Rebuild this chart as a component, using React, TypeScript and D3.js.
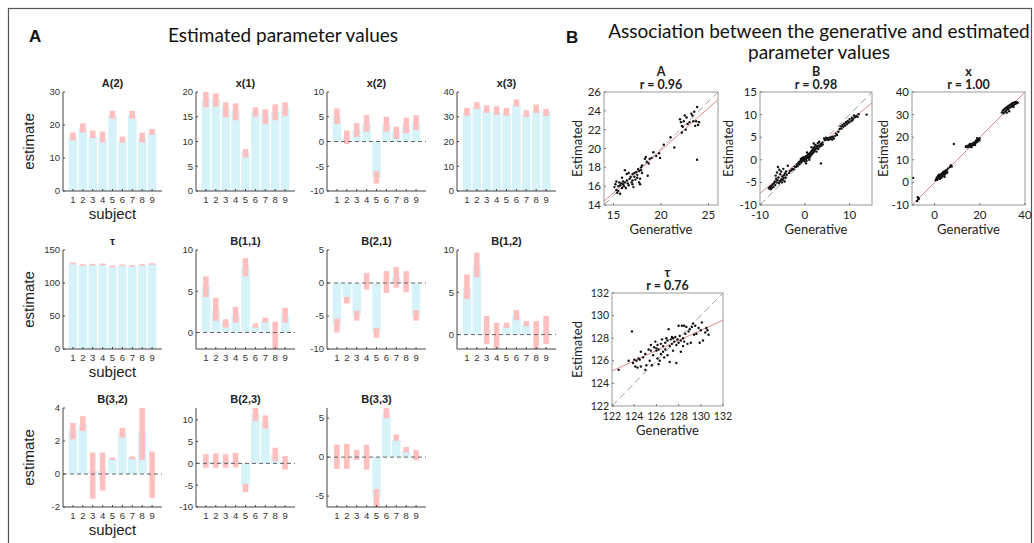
import React from 'react';
import * as d3 from 'd3';

// ---- panel A data: generative value (blue bar) and estimate range (pink box) per subject ----
const subjects = [1, 2, 3, 4, 5, 6, 7, 8, 9];

const a2Gen = [16.5, 19.3, 16.3, 16.0, 23.0, 15.0, 23.0, 16.0, 17.5];
const a2Est = [[15.3, 17.7], [17.7, 20.5], [16.0, 18.3], [14.7, 18.0], [21.9, 24.3], [14.7, 16.5], [21.9, 24.3], [14.7, 17.7], [17.0, 18.8]];
const x1Gen = [18.7, 18.5, 16.7, 16.3, 7.7, 16.0, 15.5, 16.0, 16.7];
const x1Est = [[16.9, 20.0], [17.0, 19.7], [14.9, 17.9], [14.3, 17.7], [6.8, 8.5], [15.0, 16.9], [13.5, 16.5], [14.3, 17.5], [15.2, 17.9]];
const x2Gen = [5.1, 1.0, 2.3, 3.8, -7.3, 3.5, 2.0, 3.2, 3.8];
const x2Est = [[3.5, 6.7], [-0.5, 2.2], [0.9, 3.7], [2.0, 5.3], [-8.5, -6.0], [2.0, 5.0], [0.5, 3.0], [1.7, 4.8], [2.3, 5.3]];
const x3Gen = [31.5, 33.9, 32.6, 31.9, 31.5, 35.0, 31.0, 32.6, 31.9];
const x3Est = [[30.5, 33.6], [33.1, 35.9], [31.6, 34.6], [30.8, 34.2], [30.4, 33.5], [34.2, 37.0], [29.9, 32.6], [31.5, 34.9], [30.3, 33.2]];
const tauGen = [129.5, 127.0, 127.5, 128.0, 125.0, 126.5, 125.5, 127.5, 128.5];
const tauEst = [[128.0, 131.0], [126.0, 128.5], [126.5, 129.0], [126.5, 129.5], [123.5, 126.5], [125.5, 128.0], [124.5, 127.0], [126.5, 129.0], [127.5, 130.0]];
const b11Gen = [5.6, 2.8, 1.2, 2.1, 7.9, 0.7, 1.4, -0.2, 2.1];
const b11Est = [[4.3, 6.8], [1.4, 4.2], [0.6, 1.6], [1.2, 3.1], [6.8, 9.0], [0.6, 1.1], [1.2, 1.8], [-2.0, 1.3], [1.2, 3.0]];
const b21Gen = [-6.4, -2.4, -4.9, 0.1, -7.6, 0.2, 0.8, 0.3, -4.9];
const b21Est = [[-7.5, -5.4], [-3.1, -2.1], [-5.7, -4.2], [-1.0, 1.5], [-8.3, -6.8], [-1.5, 1.8], [-0.7, 2.4], [-1.4, 1.8], [-5.7, -4.1]];
const b12Gen = [5.6, 8.2, 0.5, 0.1, 1.0, 2.2, 1.2, 0.1, 0.5];
const b12Est = [[4.2, 7.1], [6.8, 9.7], [-1.1, 2.2], [-1.8, 1.4], [0.8, 1.4], [1.7, 2.9], [1.0, 1.6], [-1.8, 1.6], [-1.1, 2.2]];
const b32Gen = [2.7, 3.0, 0.2, 0.2, 0.9, 2.5, 1.0, 2.5, 0.05];
const b32Est = [[2.1, 3.1], [2.6, 3.5], [-1.5, 1.3], [-1.0, 1.3], [0.85, 1.0], [2.2, 2.8], [0.9, 1.06], [0.85, 4.1], [-1.45, 1.35]];
const b23Gen = [0.5, 0.5, 0.5, 0.5, -5.3, 11.4, 9.5, 2.1, 0.3];
const b23Est = [[-1.0, 2.1], [-1.0, 2.3], [-1.0, 2.1], [-0.9, 2.4], [-6.6, -4.7], [9.7, 12.7], [8.0, 11.0], [0.5, 3.6], [-1.4, 1.7]];
const b33Gen = [0.0, 0.0, 0.1, 0.0, -5.2, 5.6, 2.2, 0.8, 0.1];
const b33Est = [[-1.5, 1.6], [-1.5, 1.7], [-0.35, 0.9], [-1.6, 1.6], [-6.4, -4.1], [5.0, 6.3], [2.1, 2.9], [0.6, 1.3], [-0.4, 0.9]];

// ---- panel B data: [generative, estimated] ----
const ptsA = [[15.1, 15.9], [15.2, 16.2], [15.3, 15.6], [15.4, 15.3], [15.5, 16.0], [15.5, 15.5], [15.6, 16.4], [15.7, 16.1], [15.8, 16.3], [15.9, 15.8], [16.0, 16.5], [16.0, 16.2], [16.1, 16.0], [16.2, 17.7], [16.2, 16.4], [16.3, 15.8], [16.4, 16.6], [16.5, 16.3], [16.6, 16.1], [16.7, 16.8], [16.8, 17.0], [16.9, 16.4], [17.0, 17.3], [17.0, 16.6], [17.1, 15.9], [17.2, 17.0], [17.3, 16.7], [17.4, 17.5], [17.5, 16.9], [17.5, 17.2], [17.6, 17.8], [17.7, 16.4], [17.7, 17.6], [17.8, 16.2], [17.9, 17.7], [17.9, 18.0], [18.0, 17.4], [18.0, 18.2], [15.3, 16.5], [16.6, 17.4], [17.2, 17.4], [15.9, 16.9], [16.4, 17.3], [17.8, 16.8], [15.7, 15.2], [17.0, 16.2], [18.4, 19.1], [18.5, 18.6], [18.6, 17.1], [18.7, 18.4], [19.0, 19.0], [19.2, 19.6], [19.5, 19.2], [19.8, 19.5], [19.9, 19.0], [20.3, 20.4], [21.0, 21.2], [21.4, 20.1], [18.3, 18.9], [18.8, 18.9], [22.0, 23.1], [22.1, 22.8], [22.2, 21.7], [22.3, 22.3], [22.4, 22.9], [22.5, 23.5], [22.6, 22.0], [22.7, 23.3], [22.8, 22.6], [23.0, 22.8], [23.2, 23.7], [23.3, 23.5], [23.5, 23.9], [23.6, 22.4], [23.7, 22.9], [23.8, 24.4], [23.8, 18.8], [24.0, 22.8], [23.9, 22.5], [23.4, 22.9], [22.2, 22.4]];
const ptsB = [[-8.0, -6.3], [-7.8, -6.0], [-7.6, -6.5], [-7.5, -5.8], [-7.3, -6.2], [-7.2, -5.5], [-7.0, -6.0], [-6.9, -5.2], [-6.7, -4.8], [-6.6, -5.6], [-6.5, -3.5], [-6.4, -4.2], [-6.3, -5.0], [-6.2, -2.8], [-6.1, -4.5], [-6.0, -1.6], [-5.9, -3.9], [-5.8, -5.2], [-5.7, -2.2], [-5.6, -4.8], [-5.5, -3.2], [-5.4, -4.6], [-5.3, -2.6], [-5.2, -4.3], [-5.1, -5.0], [-5.0, -3.7], [-4.9, -4.4], [-4.8, -2.0], [-4.7, -4.0], [-4.6, -3.4], [-4.5, -4.8], [-4.4, -3.0], [-4.3, -3.9], [-4.2, -2.6], [-4.0, -3.3], [-3.8, -1.3], [-3.5, -2.9], [-3.3, -2.5], [-3.0, -2.3], [-2.8, -2.0], [-2.5, -2.1], [-2.3, -1.5], [-2.0, -1.6], [-1.8, -1.1], [-1.6, -1.4], [-1.5, -0.8], [-1.3, -0.5], [-1.2, -1.0], [-1.0, -0.3], [-0.9, 0.2], [-0.8, -0.6], [-0.7, 0.0], [-0.6, 0.4], [-0.5, -0.2], [-0.4, 0.3], [-0.3, 0.6], [-0.2, -0.1], [-0.1, 0.2], [0.0, 0.5], [0.0, -0.4], [0.1, 0.1], [0.2, 0.8], [0.3, 0.3], [0.4, -0.2], [0.5, 0.6], [0.6, 1.0], [0.7, 0.4], [0.8, 1.3], [0.9, 0.7], [1.0, 1.1], [1.1, 0.5], [1.2, 1.5], [1.3, 0.9], [1.4, 1.8], [1.5, 1.2], [1.6, 2.0], [1.7, 1.4], [1.8, 2.3], [1.9, 1.6], [2.0, 2.6], [2.1, 1.9], [2.2, 2.9], [2.3, 2.2], [2.4, 3.3], [2.5, 2.5], [2.6, 1.8], [2.7, 3.0], [2.8, 2.7], [2.9, 3.7], [3.0, 2.4], [3.1, 3.2], [3.2, 4.0], [3.3, 2.9], [3.5, 3.5], [3.6, -0.8], [3.7, 3.1], [3.9, 3.8], [4.0, 3.4], [1.5, 2.8], [0.5, 1.6], [2.0, 3.6], [0.3, -0.8], [1.0, 0.0], [4.3, 4.7], [4.5, 4.4], [4.7, 4.9], [4.9, 4.5], [5.1, 4.8], [5.3, 4.4], [5.5, 4.9], [5.7, 4.6], [5.9, 5.0], [6.1, 4.5], [6.3, 5.1], [6.5, 4.7], [6.8, 5.3], [7.0, 5.8], [7.2, 5.5], [7.5, 6.2], [7.8, 6.8], [8.0, 7.4], [8.2, 6.9], [8.4, 7.7], [8.6, 7.3], [8.8, 8.0], [9.0, 7.6], [9.2, 8.3], [9.4, 7.9], [9.6, 8.6], [9.8, 8.2], [10.0, 9.0], [10.2, 8.5], [10.5, 9.3], [10.8, 9.0], [11.0, 9.8], [11.2, 9.4], [11.5, 9.7], [12.0, 10.1], [13.8, 10.0], [11.8, 9.5], [10.6, 8.7]];
const ptsX = [[-9.5, 2.0], [-7.5, -6.5], [-7.2, -7.5], [-7.8, -8.2], [-7.0, -7.0], [0.5, 1.0], [0.8, 1.5], [1.0, 2.2], [1.2, 1.2], [1.5, 2.8], [1.7, 1.8], [2.0, 2.5], [2.2, 3.2], [2.4, 1.6], [2.6, 2.9], [2.8, 3.6], [3.0, 2.2], [3.1, 3.0], [3.3, 4.0], [3.5, 2.7], [3.6, 3.5], [3.8, 4.4], [4.0, 3.1], [4.1, 3.9], [4.3, 4.8], [4.5, 3.6], [4.6, 4.3], [4.8, 5.2], [5.0, 4.0], [5.2, 4.7], [5.4, 5.5], [5.6, 4.4], [6.0, 6.2], [6.8, 6.8], [7.2, 7.6], [7.6, 7.0], [8.5, 17.0], [2.7, 2.0], [3.9, 4.6], [1.9, 3.4], [4.4, 2.5], [13.8, 15.8], [14.2, 16.1], [14.6, 15.5], [15.0, 16.3], [15.4, 15.9], [15.8, 16.6], [16.1, 16.0], [16.5, 17.0], [16.8, 16.4], [17.1, 17.4], [17.4, 16.8], [17.7, 17.8], [18.0, 17.2], [18.3, 18.4], [18.6, 17.8], [18.9, 18.9], [19.2, 18.2], [19.5, 19.3], [19.8, 18.7], [20.0, 19.5], [16.3, 15.6], [17.9, 16.5], [18.8, 19.6], [15.6, 17.0], [29.8, 31.0], [30.2, 31.8], [30.5, 30.6], [30.8, 32.4], [31.1, 31.3], [31.4, 32.9], [31.7, 31.8], [32.0, 33.3], [32.3, 32.4], [32.6, 33.8], [32.9, 32.8], [33.2, 34.2], [33.5, 33.3], [33.8, 34.6], [34.1, 33.7], [34.4, 35.0], [34.7, 34.1], [35.0, 35.3], [35.3, 34.5], [35.6, 35.6], [35.9, 34.8], [36.2, 35.5], [36.5, 35.1], [36.8, 35.3], [33.0, 31.5], [31.9, 30.8], [34.9, 33.4]];
const ptsTau = [[122.6, 125.2], [123.5, 126.0], [123.8, 128.6], [123.9, 125.8], [124.1, 125.5], [124.2, 126.0], [124.3, 125.4], [124.4, 126.2], [124.5, 126.1], [124.6, 125.5], [124.6, 126.8], [124.8, 126.3], [125.0, 125.2], [125.0, 126.6], [125.1, 125.6], [125.3, 127.0], [125.4, 126.0], [125.5, 126.9], [125.5, 127.4], [125.7, 126.5], [125.8, 127.2], [125.9, 127.7], [126.0, 126.9], [126.1, 126.2], [126.1, 127.4], [126.2, 125.7], [126.2, 127.0], [126.3, 126.0], [126.4, 127.5], [126.4, 126.6], [126.5, 127.9], [126.6, 127.3], [126.6, 126.8], [126.7, 126.3], [126.8, 127.6], [126.8, 127.0], [126.9, 128.0], [127.0, 126.5], [127.0, 127.8], [127.1, 128.8], [127.2, 127.3], [127.2, 125.9], [127.3, 127.9], [127.4, 127.5], [127.5, 128.0], [127.5, 126.9], [127.6, 127.7], [127.7, 128.1], [127.8, 127.4], [127.8, 125.8], [127.9, 127.9], [128.0, 129.1], [128.0, 127.6], [128.1, 128.2], [128.2, 127.8], [128.2, 126.8], [128.3, 129.1], [128.4, 128.0], [128.4, 127.3], [128.5, 127.7], [128.6, 128.4], [128.7, 129.0], [128.8, 127.5], [128.9, 128.6], [129.0, 128.8], [129.1, 127.6], [129.2, 129.0], [129.3, 129.3], [129.4, 128.3], [129.5, 129.1], [129.6, 128.4], [129.8, 128.9], [129.9, 127.6], [130.0, 128.7], [130.1, 129.4], [130.2, 127.8], [130.4, 128.5], [130.5, 128.9], [130.6, 128.7], [130.7, 128.3], [128.5, 129.1], [126.0, 127.1], [127.4, 128.1], [125.6, 125.6], [124.0, 126.1]];

// least squares fit: [slope, intercept]
const fitA = [0.9, 1.8];
const fitB = [0.8, 0.6];
const fitX = [1.0, 0.0];
const fitTau = [0.45, 70.2];

const NARROW = "'Liberation Sans Narrow', 'Arial Narrow', 'Liberation Sans', Arial, sans-serif";
const CAL = "Lato, 'Open Sans', 'DejaVu Sans', sans-serif";
const BLUE = '#d6f3fa';
const PINK = '#ffbfbf';

const barPanels = [
  { title: 'A(2)', gen: a2Gen, est: a2Est, domain: [0, 30], ticks: [0, 10, 20, 30], col: 0, row: 0 },
  { title: 'x(1)', gen: x1Gen, est: x1Est, domain: [0, 20], ticks: [0, 5, 10, 15, 20], col: 1, row: 0 },
  { title: 'x(2)', gen: x2Gen, est: x2Est, domain: [-10, 10], ticks: [-10, -5, 0, 5, 10], col: 2, row: 0 },
  { title: 'x(3)', gen: x3Gen, est: x3Est, domain: [0, 40], ticks: [0, 10, 20, 30, 40], col: 3, row: 0 },
  { title: 'τ', gen: tauGen, est: tauEst, domain: [0, 150], ticks: [0, 50, 100, 150], col: 0, row: 1 },
  { title: 'B(1,1)', gen: b11Gen, est: b11Est, domain: [-2, 10], ticks: [0, 5, 10], col: 1, row: 1 },
  { title: 'B(2,1)', gen: b21Gen, est: b21Est, domain: [-10, 5], ticks: [-10, -5, 0, 5], col: 2, row: 1 },
  { title: 'B(1,2)', gen: b12Gen, est: b12Est, domain: [-1.7, 10], ticks: [0, 5, 10], col: 3, row: 1 },
  { title: 'B(3,2)', gen: b32Gen, est: b32Est, domain: [-2, 4], ticks: [-2, 0, 2, 4], col: 0, row: 2 },
  { title: 'B(2,3)', gen: b23Gen, est: b23Est, domain: [-10, 12.7], ticks: [-10, -5, 0, 5, 10], col: 1, row: 2 },
  { title: 'B(3,3)', gen: b33Gen, est: b33Est, domain: [-6.4, 6.3], ticks: [-5, 0, 5], col: 2, row: 2 },
];

const colX = [63, 196, 327, 457];
const rowY = [92, 250, 408];

const scatterPanels = [
  { name: 'A', r: 'r = 0.96', pts: ptsA, fit: fitA, dom: [14, 26], ydom: [14, 26], xt: [15, 20, 25], yt: [14, 16, 18, 20, 22, 24, 26], box: [604, 92, 114, 113], labX: 582, fs: 11.5 },
  { name: 'B', r: 'r = 0.98', pts: ptsB, fit: fitB, dom: [-10, 15], ydom: [-10, 15], xt: [-10, 0, 10], yt: [-10, -5, 0, 5, 10, 15], box: [760, 92, 112, 113], labX: 733, fs: 11.5 },
  { name: 'x', r: 'r = 1.00', pts: ptsX, fit: fitX, dom: [-10, 40], ydom: [-10, 40], xt: [0, 20, 40], yt: [-10, 0, 10, 20, 30, 40], box: [912, 92, 113, 113], labX: 888, fs: 11.5 },
  { name: 'τ', r: 'r = 0.76', pts: ptsTau, fit: fitTau, dom: [122, 132], ydom: [122, 132], xt: [122, 124, 126, 128, 130, 132], yt: [122, 124, 126, 128, 130, 132], box: [612, 293, 111, 113], labX: 582, fs: 10.5 },
];

function BarPanel({ p }: any) {
  const x0 = colX[p.col];
  const y0 = rowY[p.row];
  const w = 99, h = 99;
  const x = d3.scaleLinear().domain([0, 10]).range([x0, x0 + w]);
  const y = d3.scaleLinear().domain(p.domain).range([y0 + h, y0]);
  const cl = (v: number) => Math.max(p.domain[0], Math.min(p.domain[1], v));
  const bw = x(0.86) - x(0);
  const pw = x(0.56) - x(0);
  return (
    <g>
      <text x={x0 + w / 2} y={y0 - 5} textAnchor="middle" fontFamily={NARROW} fontWeight="bold" fontSize={11} fill="#222">{p.title}</text>
      {p.gen.map((v: number, i: number) => (
        <rect key={'b' + i} x={x(subjects[i]) - bw / 2} width={bw} y={Math.min(y(0), y(v))} height={Math.abs(y(v) - y(0))} fill={BLUE} />
      ))}
      {p.est.map((r: number[], i: number) => (
        <rect key={'p' + i} x={x(subjects[i]) - pw / 2} width={pw} y={y(cl(r[1]))} height={y(cl(r[0])) - y(cl(r[1]))} fill={PINK} />
      ))}
      {p.domain[0] < 0 && (
        <line x1={x0} x2={x0 + w} y1={y(0)} y2={y(0)} stroke="#666" strokeWidth={1} strokeDasharray="4,3" />
      )}
      <line x1={x0} x2={x0} y1={y0} y2={y0 + h} stroke="#444" strokeWidth={1} />
      <line x1={x0} x2={x0 + w} y1={y0 + h} y2={y0 + h} stroke="#444" strokeWidth={1} />
      {p.ticks.map((t: number) => (
        <g key={'yt' + t}>
          <line x1={x0} x2={x0 + 2} y1={y(t)} y2={y(t)} stroke="#444" />
          <text x={x0 - 3} y={y(t)} dy="0.35em" textAnchor="end" fontFamily={NARROW} fontSize={9.5} fill="#333">{t}</text>
        </g>
      ))}
      {subjects.map((s) => (
        <g key={'xt' + s}>
          <line x1={x(s)} x2={x(s)} y1={y0 + h} y2={y0 + h - 2} stroke="#444" />
          <text x={x(s)} y={y0 + h + 12} textAnchor="middle" fontFamily={NARROW} fontSize={9.5} fill="#333">{s}</text>
        </g>
      ))}
      {p.col === 0 && (
        <>
          <text transform={`translate(${x0 - 29},${y0 + h / 2}) rotate(-90)`} textAnchor="middle" fontFamily={NARROW} fontSize={15} fill="#222">estimate</text>
          <text x={x0 + w / 2} y={y0 + h + 28} textAnchor="middle" fontFamily={NARROW} fontSize={15} fill="#222">subject</text>
        </>
      )}
    </g>
  );
}

function ScatterPanel({ p, idx }: any) {
  const [bx, by, bw, bh] = p.box;
  const x = d3.scaleLinear().domain(p.dom).range([bx, bx + bw]);
  const y = d3.scaleLinear().domain(p.ydom).range([by + bh, by]);
  const clipId = 'clip' + idx;
  const fitLine = d3.line<number>().x((v) => x(v)).y((v) => y(p.fit[0] * v + p.fit[1]));
  const idLine = d3.line<number>().x((v) => x(v)).y((v) => y(v));
  return (
    <g>
      <defs>
        <clipPath id={clipId}><rect x={bx} y={by} width={bw} height={bh} /></clipPath>
      </defs>
      <text x={bx + bw / 2} y={by - 16} textAnchor="middle" fontFamily={CAL} fontWeight="bold" fontSize={12.5} fill="#222">{p.name}</text>
      <text x={bx + bw / 2} y={by - 3} textAnchor="middle" fontFamily={CAL} fontWeight="bold" fontSize={12.5} fill="#222">{p.r}</text>
      <g clipPath={`url(#${clipId})`}>
        <path d={idLine(p.dom) || ''} stroke="#a0a0a0" strokeWidth={1} strokeDasharray="7,4" fill="none" />
        <path d={fitLine(p.dom) || ''} stroke="#e48a8a" strokeWidth={1} fill="none" />
        {p.pts.map((d: number[], i: number) => (
          <circle key={i} cx={x(d[0])} cy={y(d[1])} r={1.2} fill="#111" />
        ))}
      </g>
      <rect x={bx} y={by} width={bw} height={bh} fill="none" stroke="#999" strokeWidth={1} />
      {p.xt.map((t: number) => (
        <g key={'x' + t}>
          <line x1={x(t)} x2={x(t)} y1={by + bh} y2={by + bh - 2} stroke="#777" />
          <text x={x(t)} y={by + bh + 14} textAnchor="middle" fontFamily={CAL} fontSize={p.fs} fill="#222">{t}</text>
        </g>
      ))}
      {p.yt.map((t: number) => (
        <g key={'y' + t}>
          <line x1={bx} x2={bx + 2} y1={y(t)} y2={y(t)} stroke="#777" />
          <text x={bx - 3} y={y(t)} dy="0.35em" textAnchor="end" fontFamily={CAL} fontSize={p.fs} fill="#222">{t}</text>
        </g>
      ))}
      <text transform={`translate(${p.labX},${by + bh / 2}) rotate(-90)`} textAnchor="middle" fontFamily={CAL} fontSize={13} fill="#222">Estimated</text>
      <text x={bx + bw / 2} y={by + bh + 29} textAnchor="middle" fontFamily={CAL} fontSize={13} fill="#222">Generative</text>
    </g>
  );
}

export default function App() {
  return (
    <svg width={1034} height={543} style={{ position: 'absolute', left: 0, top: 0, background: '#fff' }}>
      <rect x={8.5} y={8.5} width={1023} height={600} fill="none" stroke="#555" strokeWidth={1.2} />
      <text x={29} y={42} fontFamily="'Liberation Sans', Arial, sans-serif" fontWeight="bold" fontSize={17} fill="#111">A</text>
      <text x={283} y={42} textAnchor="middle" fontFamily={CAL} fontSize={19} fill="#111">Estimated parameter values</text>
      <text x={566} y={43} fontFamily="'Liberation Sans', Arial, sans-serif" fontWeight="bold" fontSize={17} fill="#111">B</text>
      <text x={819} y={38} textAnchor="middle" fontFamily={CAL} fontSize={19} fill="#111">Association between the generative and estimated</text>
      <text x={819} y={59} textAnchor="middle" fontFamily={CAL} fontSize={19} fill="#111">parameter values</text>
      {barPanels.map((p) => <BarPanel key={p.title} p={p} />)}
      {scatterPanels.map((p, i) => <ScatterPanel key={p.name} p={p} idx={i} />)}
    </svg>
  );
}
